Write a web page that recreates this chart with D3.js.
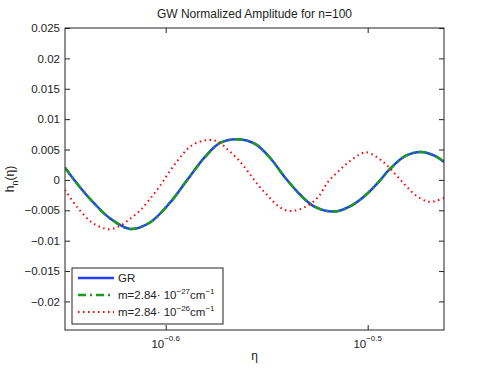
<!DOCTYPE html>
<html>
<head>
<meta charset="utf-8">
<script src="https://cdn.jsdelivr.net/npm/d3@7"></script>
<style>
  body { margin: 0; background: #fff; }
  svg { display: block; }
  text { font-family: "Liberation Sans", Arial, sans-serif; fill: #222; }
</style>
</head>
<body>
<div id="chart"></div>
<script>
var width = 491;
var height = 372;

// eta values
var etaGR = [0.22395, 0.22781, 0.23174, 0.23574, 0.24118, 0.24673, 0.25242, 0.25736,
             0.26270, 0.26723, 0.27277, 0.27811, 0.28290, 0.28778, 0.29274, 0.29779,
             0.30431, 0.30992, 0.31526, 0.31996, 0.32437, 0.32997, 0.33606, 0.34145, 0.34497];
var hGR = [0.00202, -0.0012, -0.0040, -0.00633, -0.00806, -0.0070, -0.00375, -0.00005,
           0.00378, 0.00609, 0.00669, 0.00592, 0.00365, 0.00040, -0.00240, -0.00445,
           -0.00521, -0.00435, -0.00260, -0.00045, 0.00180, 0.00390, 0.00461, 0.00395, 0.00296];
// m = 2.84e-27 curve sits on top of GR
var hMassSmall = [0.00202, -0.0012, -0.0040, -0.00633, -0.00806, -0.0070, -0.00375, -0.00005,
                  0.00378, 0.00609, 0.00669, 0.00592, 0.00365, 0.00040, -0.00240, -0.00445,
                  -0.00521, -0.00435, -0.00260, -0.00045, 0.00180, 0.00390, 0.00461, 0.00395, 0.00296];

var etaBig = [0.22395, 0.22703, 0.23042, 0.23307, 0.23547, 0.23844, 0.24118, 0.24394,
              0.24673, 0.24956, 0.25242, 0.25532, 0.25825, 0.26120, 0.26390, 0.26662,
              0.26968, 0.27277, 0.27590, 0.27906, 0.28226, 0.28549, 0.28877, 0.29208,
              0.29543, 0.29882, 0.30224, 0.30571, 0.30921, 0.31276, 0.31562, 0.31924,
              0.32290, 0.32660, 0.33035, 0.33413, 0.33873, 0.34184, 0.34497];
var hMassBig = [-0.00164, -0.00444, -0.00674, -0.00773, -0.00811, -0.00757, -0.00641, -0.00505,
                -0.00313, -0.00099, 0.00148, 0.00367, 0.00548, 0.00630, 0.00658, 0.00630,
                0.00493, 0.00340, 0.00137, -0.00082, -0.00263, -0.00428, -0.00510, -0.00493,
                -0.00419, -0.00285, -0.00033, 0.00137, 0.00285, 0.00403, 0.00456, 0.00383,
                0.00255, 0.00082, -0.00099, -0.00255, -0.00357, -0.00345, -0.00296];

var yTicks = [-0.02, -0.015, -0.01, -0.005, 0, 0.005, 0.01, 0.015, 0.02, 0.025];
var yTickLabels = ["\u22120.02", "\u22120.015", "\u22120.01", "\u22120.005", "0",
                   "0.005", "0.01", "0.015", "0.02", "0.025"];
var xTickExps = [-0.6, -0.5];
var xTickLabels = ["\u22120.6", "\u22120.5"];

var series = [
    { name: "GR", eta: etaGR, h: hGR, color: "#1f3fff", width: 2.5, dash: null },
    { name: "small", eta: etaGR, h: hMassSmall, color: "#1b9a1b", width: 2.5, dash: "8,4,2,4" },
    { name: "big", eta: etaBig, h: hMassBig, color: "#ff0000", width: 2, dash: "1.5,3.5" }
];

var margin = { left: 65, right: 47, top: 28, bottom: 42 };
var plotW = width - margin.left - margin.right;
var plotH = height - margin.top - margin.bottom;

var x = d3.scaleLog().domain([0.22395, 0.34497]).range([0, plotW]);
var y = d3.scaleLinear().domain([-0.0247, 0.025]).range([plotH, 0]);

var svg = d3.select("#chart").append("svg")
    .attr("width", width)
    .attr("height", height);

var g = svg.append("g")
    .attr("transform", "translate(" + margin.left + "," + margin.top + ")");

g.append("clipPath").attr("id", "clip")
    .append("rect").attr("width", plotW).attr("height", plotH);

// lines
var lineGen = d3.line()
    .x(d => x(d[0]))
    .y(d => y(d[1]))
    .curve(d3.curveCatmullRom.alpha(0.5));

series.forEach(function(s) {
    var pts = s.eta.map((e, i) => [e, s.h[i]]);
    var p = g.append("path")
        .datum(pts)
        .attr("clip-path", "url(#clip)")
        .attr("d", lineGen)
        .attr("fill", "none")
        .attr("stroke", s.color)
        .attr("stroke-width", s.width);
    if (s.dash) p.attr("stroke-dasharray", s.dash);
});

// axes (ticks inside, box)
var axColor = "#222";
var yLeft = g.append("g")
    .call(d3.axisLeft(y).tickValues(yTicks).tickSize(-5).tickPadding(5)
        .tickFormat((d, i) => yTickLabels[i]));
var yRight = g.append("g")
    .attr("transform", "translate(" + plotW + ",0)")
    .call(d3.axisRight(y).tickValues(yTicks).tickSize(-5).tickFormat(""));
var xBottom = g.append("g")
    .attr("transform", "translate(0," + plotH + ")")
    .call(d3.axisBottom(x).tickValues(xTickExps.map(e => Math.pow(10, e))).tickSize(-5).tickFormat(""));
var xTop = g.append("g")
    .call(d3.axisTop(x).tickValues(xTickExps.map(e => Math.pow(10, e))).tickSize(-5).tickFormat(""));

[yLeft, yRight, xBottom, xTop].forEach(function(a) {
    a.select(".domain").remove();
    a.selectAll("line").attr("stroke", axColor).attr("stroke-width", 1);
});
yLeft.selectAll("text").style("font-size", "11.5px").style("font-family", "Liberation Sans, Arial, sans-serif")
    .attr("fill", "#222");

g.append("rect")
    .attr("width", plotW).attr("height", plotH)
    .attr("fill", "none").attr("stroke", axColor).attr("stroke-width", 1);

// x tick labels 10^exp
xTickExps.forEach(function(e, i) {
    var t = g.append("text")
        .attr("x", x(Math.pow(10, e)))
        .attr("y", plotH + 18)
        .attr("text-anchor", "middle")
        .style("font-size", "11.5px");
    t.append("tspan").text("10");
    t.append("tspan").attr("dy", -7).style("font-size", "8px").text(xTickLabels[i]);
});

// axis labels
svg.append("text")
    .attr("x", margin.left + plotW / 2)
    .attr("y", 360)
    .attr("text-anchor", "middle")
    .style("font-size", "12px")
    .text("\u03b7");

var yl = svg.append("text")
    .attr("transform", "translate(14," + (margin.top + plotH / 2) + ") rotate(-90)")
    .attr("text-anchor", "middle")
    .style("font-size", "12px");
yl.append("tspan").text("h");
yl.append("tspan").attr("dy", 4).style("font-size", "9px").text("n");
yl.append("tspan").attr("dy", -4).text("(\u03b7)");

svg.append("text")
    .attr("x", margin.left + plotW / 2)
    .attr("y", 18)
    .attr("text-anchor", "middle")
    .style("font-size", "12px")
    .text("GW Normalized Amplitude for n=100");

// legend
var leg = svg.append("g").attr("transform", "translate(72,268)");
leg.append("rect")
    .attr("width", 151).attr("height", 56)
    .attr("fill", "#fff").attr("stroke", axColor).attr("stroke-width", 1);

var legItems = [
    { s: series[0], parts: [["GR", 0]] },
    { s: series[1], parts: [["m=2.84\u00b7 10", 0], ["\u221227", -5], ["cm", 5], ["\u22121", -5]] },
    { s: series[2], parts: [["m=2.84\u00b7 10", 0], ["\u221226", -5], ["cm", 5], ["\u22121", -5]] }
];
legItems.forEach(function(it, i) {
    var ly = 10 + i * 17;
    var ln = leg.append("line")
        .attr("x1", 6).attr("x2", 42)
        .attr("y1", ly).attr("y2", ly)
        .attr("stroke", it.s.color)
        .attr("stroke-width", it.s.width);
    if (it.s.dash) ln.attr("stroke-dasharray", it.s.dash);
    var t = leg.append("text")
        .attr("x", 46).attr("y", ly + 4)
        .style("font-size", "11.5px");
    it.parts.forEach(function(p) {
        var sp = t.append("tspan").attr("dy", p[1]).text(p[0]);
        if (p[1] < 0) sp.style("font-size", "8px");
    });
});
</script>
</body>
</html>
